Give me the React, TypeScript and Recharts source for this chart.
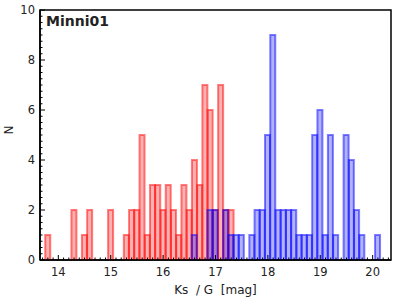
import { BarChart, Bar, XAxis, YAxis, ReferenceArea, Label } from 'recharts';

// 0.1 mag bins, centred on 13.7 ... 20.3
const binStart = 13.7;
const binWidth = 0.1;

const red = [
  0, 1, 0, 0, 0, 0, 2, 0, 1, 2, 0, 0, 0, 2, 0, 0, 1, 2, 2, 5,
  1, 3, 3, 2, 3, 2, 1, 3, 2, 4, 3, 7, 6, 2, 7, 2, 2, 0, 0, 0,
  0, 0, 0, 0, 0, 0, 0, 0, 0, 0, 0, 0, 0, 0, 0, 0, 0, 0, 0, 0,
  0, 0, 0, 0, 0, 0, 0,
];

const blue = [
  0, 0, 0, 0, 0, 0, 0, 0, 0, 0, 0, 0, 0, 0, 0, 0, 0, 0, 0, 0,
  0, 0, 0, 0, 0, 0, 0, 0, 0, 1, 0, 0, 2, 2, 0, 2, 1, 1, 1, 0,
  1, 2, 2, 5, 9, 2, 2, 2, 2, 1, 1, 1, 5, 6, 1, 5, 1, 0, 5, 4,
  2, 1, 0, 0, 1, 0, 0,
];

const xMajor = [14, 15, 16, 17, 18, 19, 20];
const yMajor = [0, 2, 4, 6, 8, 10];

const data = red.map((r, i) => ({
  bin: Math.round((binStart + binWidth * i) * 10) / 10,
  red: r,
  blue: blue[i],
}));

const yTicks: number[] = [];
for (let i = 0; i <= 40; i++) yTicks.push(i / 4);

const font = '"DejaVu Sans", sans-serif';

function XTick({ x, y, payload }: any) {
  const major = xMajor.includes(payload.value);
  return (
    <g>
      <line x1={x} x2={x} y1={y} y2={y - (major ? 5 : 2.5)} stroke="#000" />
      {major && (
        <text x={x} y={y + 16} textAnchor="middle" fontSize={11.5} fontFamily={font} fill="#222">
          {payload.value}
        </text>
      )}
    </g>
  );
}

function YTick({ x, y, payload }: any) {
  const major = yMajor.includes(payload.value);
  return (
    <g>
      <line x1={x} x2={x + (major ? 5 : 2.5)} y1={y} y2={y} stroke="#000" />
      {major && (
        <text x={x - 5} y={y + 4} textAnchor="end" fontSize={11.5} fontFamily={font} fill="#222">
          {payload.value}
        </text>
      )}
    </g>
  );
}

export default function App() {
  return (
    <div style={{ position: 'absolute', left: 0, top: 0 }}>
      <BarChart
        width={400}
        height={300}
        data={data}
        margin={{ top: 10, right: 9, left: 0, bottom: 0 }}
        barCategoryGap={0}
        barGap="-100%"
      >
        <XAxis
          dataKey="bin"
          type="category"
          interval={0}
          height={40}
          tickSize={0}
          tickMargin={0}
          tickLine={false}
          tick={<XTick />}
          axisLine={{ stroke: '#000', strokeWidth: 1.5 }}
        >
          <Label
            content={({ viewBox }: any) => (
              <text
                x={viewBox.x + viewBox.width / 2}
                y={viewBox.y + 34}
                textAnchor="middle"
                fontSize={12}
                fontFamily={font}
                fill="#222"
              >
                {'Ks\u00a0\u00a0/ G\u00a0\u00a0[mag]'}
              </text>
            )}
          />
        </XAxis>
        <YAxis
          type="number"
          domain={[0, 10]}
          allowDataOverflow
          ticks={yTicks}
          interval={0}
          width={40}
          tickSize={0}
          tickMargin={0}
          tickLine={false}
          tick={<YTick />}
          axisLine={{ stroke: '#000', strokeWidth: 1.5 }}
        >
          <Label
            content={({ viewBox }: any) => {
              const cx = viewBox.x + 13;
              const cy = viewBox.y + viewBox.height / 2 - 5;
              return (
                <text
                  x={cx}
                  y={cy}
                  transform={`rotate(-90 ${cx} ${cy})`}
                  textAnchor="middle"
                  fontSize={12}
                  fontFamily={font}
                  fill="#222"
                >
                  N
                </text>
              );
            }}
          />
        </YAxis>
        <ReferenceArea
          y1={0}
          y2={10}
          fill="none"
          fillOpacity={0}
          stroke="#000"
          strokeWidth={1.5}
          label={{
            value: 'Minni01',
            position: 'insideTopLeft',
            offset: 6,
            fontSize: 14,
            fontWeight: 'bold',
            fontFamily: font,
            fill: '#222',
          }}
        />
        <Bar
          dataKey="red"
          fill="rgba(255,0,0,0.3)"
          stroke="rgba(255,0,0,0.5)"
          strokeWidth={2}
          isAnimationActive={false}
        />
        <Bar
          dataKey="blue"
          fill="rgba(0,0,255,0.3)"
          stroke="rgba(0,0,255,0.5)"
          strokeWidth={2}
          isAnimationActive={false}
        />
      </BarChart>
    </div>
  );
}
